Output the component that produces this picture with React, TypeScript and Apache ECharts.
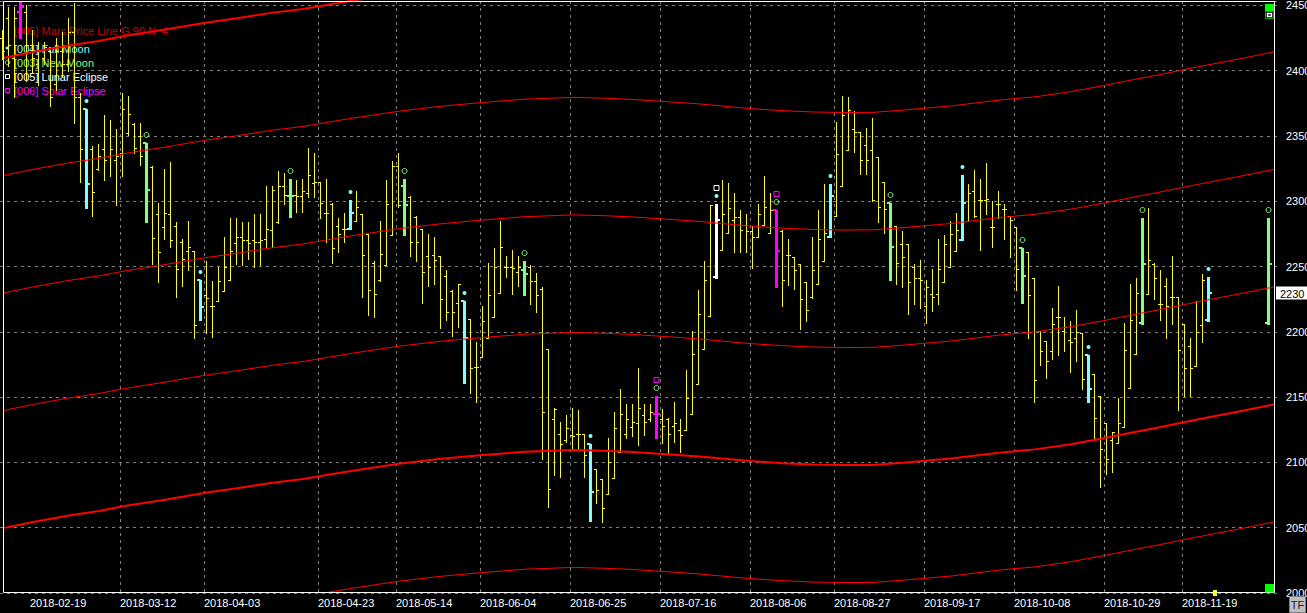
import React, { useEffect, useRef } from "react";
import * as echarts from "echarts";

// ---------- data ----------
const tickIdx = [5, 20, 34, 53, 66, 80, 95, 110, 125, 139, 154, 169, 184, 197];
const tickLabels = [
  "2018-02-19", "2018-03-12", "2018-04-03", "2018-04-23", "2018-05-14", "2018-06-04", "2018-06-25",
  "2018-07-16", "2018-08-06", "2018-08-27", "2018-09-17", "2018-10-08", "2018-10-29", "2018-11-19",
];
const BAR_SLOTS = 213; // bars + projected future slots

const opens = [
  2425, 2440, 2410, 2445, 2445, 2420, 2405, 2410, 2415, 2390,
  2415, 2405, 2430, 2380, 2371, 2340, 2325, 2340, 2335, 2332,
  2337, 2352, 2359, 2350, 2345, 2326, 2290, 2280, 2290, 2281,
  2269, 2262, 2262, 2240, 2228, 2220, 2224, 2231, 2240, 2268,
  2273, 2270, 2270, 2269, 2271, 2278, 2284, 2312, 2304, 2305,
  2304, 2306, 2314, 2315, 2291, 2298, 2281, 2279, 2279, 2285,
  2290, 2275, 2253, 2240, 2251, 2274, 2327, 2312, 2303, 2288,
  2279, 2258, 2259, 2258, 2243, 2231, 2222, 2224, 2210, 2173,
  2181, 2195, 2211, 2230, 2250, 2250, 2246, 2247, 2250, 2239,
  2233, 2187, 2133, 2122, 2117, 2121, 2122, 2122, 2114, 2095,
  2087, 2076, 2088, 2108, 2122, 2127, 2130, 2136, 2133, 2137,
  2133, 2133, 2128, 2125, 2125, 2137, 2160, 2187, 2212, 2242,
  2263, 2276, 2286, 2288, 2282, 2277, 2273, 2282, 2276, 2293,
  2277, 2259, 2257, 2252, 2238, 2227, 2237, 2254, 2273, 2289,
  2312, 2339, 2355, 2353, 2343, 2339, 2334, 2315, 2299, 2281,
  2267, 2267, 2250, 2241, 2220, 2229, 2229, 2238, 2250, 2262,
  2270, 2285, 2308, 2301, 2301, 2280, 2298, 2294, 2289, 2280,
  2264, 2261, 2241, 2201, 2193, 2185, 2211, 2201, 2194, 2195,
  2199, 2182, 2168, 2151, 2130, 2117, 2115, 2127, 2157, 2183,
  2207, 2229, 2252, 2221, 2235, 2227, 2227, 2206, 2189, 2174,
  2205, 2209,
];
const highs = [
  2431, 2449, 2449, 2455, 2450, 2431, 2422, 2422, 2418, 2425,
  2430, 2440, 2452, 2383, 2371, 2342, 2344, 2366, 2362, 2355,
  2383, 2381, 2360, 2360, 2345, 2327, 2299, 2325, 2330, 2284,
  2271, 2285, 2262, 2240, 2254, 2239, 2250, 2273, 2287, 2287,
  2284, 2284, 2290, 2290, 2312, 2312, 2323, 2322, 2317, 2316,
  2317, 2341, 2337, 2315, 2317, 2299, 2287, 2291, 2301, 2308,
  2290, 2275, 2254, 2285, 2316, 2331, 2337, 2317, 2304, 2289,
  2279, 2275, 2273, 2258, 2247, 2232, 2237, 2224, 2210, 2192,
  2220, 2253, 2264, 2285, 2258, 2263, 2258, 2254, 2251, 2245,
  2234, 2187, 2142, 2131, 2136, 2142, 2140, 2122, 2114, 2095,
  2087, 2119, 2139, 2156, 2145, 2145, 2172, 2145, 2145, 2151,
  2141, 2134, 2146, 2133, 2171, 2201, 2232, 2254, 2297, 2298,
  2316, 2314, 2306, 2293, 2290, 2281, 2298, 2319, 2306, 2293,
  2278, 2271, 2257, 2252, 2238, 2273, 2293, 2313, 2313, 2361,
  2381, 2380, 2369, 2353, 2356, 2364, 2334, 2315, 2299, 2281,
  2277, 2267, 2252, 2255, 2240, 2248, 2271, 2274, 2285, 2291,
  2320, 2313, 2324, 2317, 2329, 2300, 2308, 2298, 2289, 2280,
  2264, 2261, 2241, 2201, 2193, 2218, 2235, 2211, 2208, 2217,
  2199, 2182, 2168, 2151, 2130, 2123, 2149, 2207, 2237, 2241,
  2287, 2295, 2253, 2247, 2241, 2258, 2227, 2206, 2195, 2224,
  2244, 2242,
];
const lows = [
  2409, 2404, 2380, 2425, 2392, 2399, 2389, 2405, 2373, 2385,
  2395, 2400, 2360, 2315, 2295, 2289, 2324, 2316, 2319, 2297,
  2319, 2351, 2337, 2328, 2284, 2252, 2238, 2271, 2265, 2227,
  2235, 2247, 2195, 2209, 2199, 2196, 2224, 2231, 2240, 2252,
  2251, 2256, 2250, 2251, 2265, 2265, 2283, 2298, 2288, 2292,
  2292, 2303, 2303, 2287, 2269, 2253, 2261, 2269, 2279, 2285,
  2227, 2213, 2211, 2239, 2251, 2274, 2296, 2274, 2258, 2254,
  2222, 2235, 2237, 2203, 2209, 2197, 2204, 2161, 2153, 2146,
  2181, 2195, 2211, 2230, 2242, 2229, 2235, 2228, 2221, 2215,
  2103, 2066, 2090, 2089, 2116, 2110, 2111, 2089, 2055, 2069,
  2054, 2076, 2088, 2108, 2119, 2120, 2113, 2121, 2132, 2119,
  2115, 2107, 2116, 2108, 2125, 2137, 2160, 2187, 2212, 2241,
  2263, 2276, 2261, 2261, 2261, 2249, 2273, 2282, 2276, 2234,
  2220, 2236, 2233, 2202, 2208, 2226, 2237, 2254, 2273, 2289,
  2312, 2339, 2338, 2321, 2321, 2300, 2284, 2276, 2240, 2237,
  2234, 2214, 2221, 2218, 2207, 2216, 2221, 2238, 2250, 2262,
  2270, 2285, 2288, 2263, 2290, 2265, 2287, 2271, 2257, 2232,
  2222, 2195, 2146, 2175, 2165, 2179, 2182, 2185, 2169, 2178,
  2156, 2146, 2119, 2081, 2091, 2093, 2115, 2127, 2157, 2183,
  2206, 2229, 2225, 2209, 2195, 2206, 2140, 2151, 2151, 2174,
  2192, 2208,
];
const closes = [
  2415, 2420, 2440, 2449, 2420, 2410, 2415, 2418, 2380, 2415,
  2405, 2430, 2380, 2340, 2313, 2307, 2335, 2332, 2340, 2335,
  2371, 2367, 2341, 2335, 2309, 2272, 2261, 2291, 2270, 2248,
  2256, 2265, 2205, 2219, 2226, 2220, 2239, 2250, 2262, 2273,
  2270, 2268, 2269, 2270, 2279, 2309, 2312, 2305, 2304, 2304,
  2308, 2320, 2315, 2299, 2291, 2264, 2275, 2279, 2291, 2296,
  2259, 2232, 2229, 2260, 2298, 2327, 2297, 2297, 2269, 2269,
  2246, 2250, 2255, 2225, 2215, 2215, 2237, 2195, 2172, 2173,
  2208, 2228, 2250, 2265, 2250, 2249, 2250, 2244, 2239, 2228,
  2139, 2080, 2141, 2114, 2126, 2120, 2122, 2106, 2077, 2079,
  2065, 2100, 2126, 2137, 2133, 2131, 2142, 2131, 2139, 2137,
  2128, 2122, 2130, 2121, 2149, 2183, 2214, 2240, 2297, 2286,
  2290, 2295, 2288, 2278, 2277, 2273, 2290, 2296, 2293, 2262,
  2240, 2259, 2247, 2225, 2217, 2247, 2271, 2276, 2304, 2336,
  2366, 2370, 2353, 2332, 2332, 2301, 2296, 2294, 2265, 2253,
  2257, 2238, 2241, 2240, 2234, 2227, 2248, 2267, 2275, 2278,
  2299, 2306, 2289, 2301, 2302, 2280, 2298, 2294, 2286, 2248,
  2243, 2228, 2163, 2185, 2178, 2206, 2211, 2204, 2192, 2200,
  2164, 2156, 2134, 2110, 2103, 2123, 2130, 2186, 2209, 2230,
  2252, 2255, 2241, 2221, 2220, 2227, 2186, 2172, 2172, 2200,
  2240, 2230,
];

// projected new-moon bar drawn in the future area
const projIdx = [211];
const projOhlc = [[2207, 2287, 2206, 2252]];

const fullMoonIdx = [14, 33, 58, 77, 98, 119, 138, 160, 181, 201];
const newMoonIdx = [3, 24, 48, 67, 87, 109, 129, 148, 170, 190, 211];
const lunarEclipseIdx = [119];
const solarEclipseIdx = [3, 109, 129];

// Mars price line (base harmonic)
const marsIdx = [0, 5, 11, 16, 20, 27, 34, 39, 45, 50, 58, 66, 73, 80, 87, 95, 100, 105, 110, 116,
  124, 130, 135, 140, 145, 150, 158, 166, 172, 178, 183, 188, 193, 197, 201, 206, 212];
const marsVal = [2049.7, 2054.4, 2059.4, 2062.8, 2066.4, 2071.5, 2077, 2080.2, 2084.5, 2087.3,
  2093.5, 2099, 2102.8, 2105.7, 2108.2, 2109.6, 2109, 2108, 2106.5, 2104.6,
  2101.2, 2099.4, 2098.4, 2098, 2098.1, 2099.8, 2103, 2107.5, 2110, 2114,
  2118.2, 2122.8, 2127.2, 2131, 2134.6, 2139, 2144.6];
const marsOffsets = [-90, 0, 90, 180, 270, 360];
const marsThick = [false, true, false, false, false, true];

// ---------- styling ----------
const YELLOW = "#ffff00";
const CYAN = "#80ffff";
const GREEN = "#80ff80";
const MAGENTA = "#ff00ff";
const WHITE = "#ffffff";
const RED = "#ff0000";
const GRID = "#808080";
const FONT = "Liberation Sans, Arial, sans-serif";

const categories = Array.from({ length: BAR_SLOTS }, (_, i) => String(i));
const isTick = (i: number) => tickIdx.indexOf(i) >= 0;

function renderBar(params: any, api: any) {
  const k = api.value(0);
  const o = api.value(1), h = api.value(2), l = api.value(3), c = api.value(4);
  const pH = api.coord([k, h]);
  const pL = api.coord([k, l]);
  const pO = api.coord([k, o]);
  const pC = api.coord([k, c]);
  const x = Math.round(pH[0]) - 0.5;
  const solar = solarEclipseIdx.indexOf(k) >= 0;
  const lunar = lunarEclipseIdx.indexOf(k) >= 0;
  const full = fullMoonIdx.indexOf(k) >= 0;
  const nw = newMoonIdx.indexOf(k) >= 0;
  const special = solar || lunar || full || nw;
  const color = solar ? MAGENTA : lunar ? WHITE : full ? CYAN : nw ? GREEN : YELLOW;
  const w = special ? 3 : 1;
  const tw = special ? 2 : 1;
  const snap = (y: number) => (tw % 2 === 1 ? Math.round(y) + 0.5 : Math.round(y));
  const yO = snap(pO[1]);
  const yC = snap(pC[1]);
  const children: any[] = [
    { type: "line", shape: { x1: x, y1: Math.round(pH[1]), x2: x, y2: Math.round(pL[1]) + 1 }, style: { stroke: color, lineWidth: w } },
    { type: "line", shape: { x1: x - w / 2 - 2, y1: yO, x2: x, y2: yO }, style: { stroke: color, lineWidth: tw } },
    { type: "line", shape: { x1: x, y1: yC, x2: x + w / 2 + 2, y2: yC }, style: { stroke: color, lineWidth: tw } },
  ];
  const top = Math.round(pH[1]);
  if (full) children.push({ type: "circle", shape: { cx: x, cy: top - 8, r: 2 }, style: { fill: CYAN } });
  if (nw) children.push({ type: "circle", shape: { cx: x, cy: top - 8, r: 2.5 }, style: { fill: "none", stroke: GREEN, lineWidth: 1 } });
  if (lunar) children.push({ type: "rect", shape: { x: x - 2.5, y: top - 18.5, width: 5, height: 5 }, style: { fill: "none", stroke: WHITE, lineWidth: 1 } });
  if (solar) children.push({ type: "rect", shape: { x: x - 2.5, y: top - 18.5, width: 5, height: 5 }, style: { fill: "none", stroke: MAGENTA, lineWidth: 1 } });
  return { type: "group", children };
}

function buildOption() {
  const barData: any[] = opens.map((o, k) => [k, o, highs[k], lows[k], closes[k]]);
  projIdx.forEach((k, i) => barData.push([k, ...projOhlc[i]]));

  const marsSeries = marsOffsets.map((off, i) => ({
    type: "line",
    data: marsIdx.map((k, j) => [k, marsVal[j] + off]),
    showSymbol: false,
    symbol: "none",
    silent: true,
    clip: true,
    z: 3,
    lineStyle: { color: RED, width: marsThick[i] ? 2 : 1 },
  }));

  return {
    animation: false,
    backgroundColor: "#000000",
    tooltip: { show: false },
    grid: { left: 0, top: 1, width: 1278, height: 592, containLabel: false, outerBoundsMode: "none" },
    xAxis: {
      type: "category",
      data: categories,
      boundaryGap: true,
      axisLine: { show: false },
      axisTick: { show: false, interval: (i: number) => isTick(i) },
      axisLabel: {
        interval: (i: number) => isTick(i),
        formatter: (_v: string, i: number) => {
          const p = tickIdx.indexOf(i);
          return p >= 0 ? tickLabels[p] : "";
        },
        color: WHITE,
        fontSize: 11,
        fontFamily: FONT,
        align: "left",
        margin: 4,
        padding: [0, 0, 0, -3],
      },
      splitLine: {
        show: true,
        interval: (i: number) => isTick(i),
        showMinLine: false,
        showMaxLine: false,
        lineStyle: { color: GRID, type: [3, 4], width: 1 },
      },
    },
    yAxis: {
      type: "value",
      position: "right",
      min: 2000,
      max: 2453.4,
      interval: 50,
      axisLine: { show: false },
      axisTick: { show: false },
      axisLabel: {
        color: WHITE,
        fontSize: 11,
        fontFamily: FONT,
        margin: 8,
        formatter: (v: number) => (Math.abs(v % 50) < 1e-6 ? String(v) : ""),
      },
      splitLine: { show: true, lineStyle: { color: GRID, type: [3, 4], width: 1 } },
    },
    series: [
      {
        type: "custom",
        renderItem: renderBar,
        data: barData,
        encode: { x: 0, y: [1, 2, 3, 4] },
        clip: true,
        z: 2,
        silent: true,
      },
      ...marsSeries,
    ],
  };
}

function buildGraphics(py: number, last: number) {
  const txt = (x: number, y: number, text: string, fill: string) => ({
    type: "text",
    z: 0,
    silent: true,
    style: { x, y, text, fill, fontSize: 11, fontFamily: FONT, align: "left", verticalAlign: "middle" },
  });
  return [
    txt(14, 31, "[005] Mars Price Line G 90 N  4", "#cc0000"),
    { type: "circle", z: 0, shape: { cx: 7, cy: 48, r: 1.5 }, style: { fill: CYAN } },
    txt(14, 48.5, "[004] Full Moon", CYAN),
    { type: "circle", z: 0, shape: { cx: 7.5, cy: 62.5, r: 2.2 }, style: { fill: "none", stroke: GREEN, lineWidth: 1 } },
    txt(14, 62.5, "[003] New Moon", GREEN),
    { type: "rect", z: 0, shape: { x: 5.5, y: 74.5, width: 4, height: 4 }, style: { fill: "none", stroke: WHITE, lineWidth: 1 } },
    txt(14, 76.5, "[005] Lunar Eclipse", WHITE),
    { type: "rect", z: 0, shape: { x: 5.5, y: 88.5, width: 4, height: 4 }, style: { fill: "none", stroke: MAGENTA, lineWidth: 1 } },
    txt(14, 90.5, "[006] Solar Eclipse", MAGENTA),
    // plot frame
    { type: "rect", z: 50, silent: true, shape: { x: 3.5, y: 1.5, width: 1271, height: 591 }, style: { fill: "none", stroke: WHITE, lineWidth: 1 } },
    // corner widgets
    { type: "rect", z: 51, shape: { x: 1265, y: 4, width: 9, height: 7 }, style: { fill: "#00ff00" } },
    { type: "rect", z: 51, shape: { x: 1265.5, y: 11.5, width: 8, height: 7 }, style: { fill: "#000000", stroke: "#00b000", lineWidth: 1 } },
    { type: "rect", z: 52, shape: { x: 1267.5, y: 13.5, width: 4, height: 3 }, style: { fill: "none", stroke: WHITE, lineWidth: 1.5 } },
    { type: "rect", z: 51, shape: { x: 1265, y: 584, width: 9, height: 8.5 }, style: { fill: "#00ff00" } },
    { type: "rect", z: 51, shape: { x: 1213, y: 590, width: 4, height: 6 }, style: { fill: YELLOW } },
    { type: "rect", z: 51, shape: { x: 1289.5, y: 596.5, width: 16, height: 16 }, style: { fill: "#c0c0c0", stroke: "#808080", lineWidth: 1 } },
    {
      type: "text", z: 52,
      style: { x: 1297.5, y: 605, text: "TF", fill: "#202020", fontSize: 11, fontFamily: FONT, align: "center", verticalAlign: "middle" },
    },
    // last price box
    { type: "rect", z: 51, shape: { x: 1276, y: Math.round(py) - 6.5, width: 31, height: 13 }, style: { fill: WHITE } },
    {
      type: "text", z: 52,
      style: { x: 1280, y: Math.round(py) + 0.5, text: String(last), fill: "#000000", fontSize: 11, fontFamily: FONT, align: "left", verticalAlign: "middle" },
    },
  ];
}

export default function App() {
  const ref = useRef<HTMLDivElement>(null);
  useEffect(() => {
    if (!ref.current) return;
    document.body.style.margin = "0";
    document.body.style.background = "#000";
    const chart = echarts.init(ref.current, null, { renderer: "svg" });
    chart.setOption(buildOption() as any);
    const last = closes[closes.length - 1];
    const py = chart.convertToPixel({ yAxisIndex: 0 } as any, last) as unknown as number;
    chart.setOption({ graphic: buildGraphics(py, last) } as any);
    return () => chart.dispose();
  }, []);
  return <div ref={ref} style={{ width: 1307, height: 613, background: "#000" }} />;
}
